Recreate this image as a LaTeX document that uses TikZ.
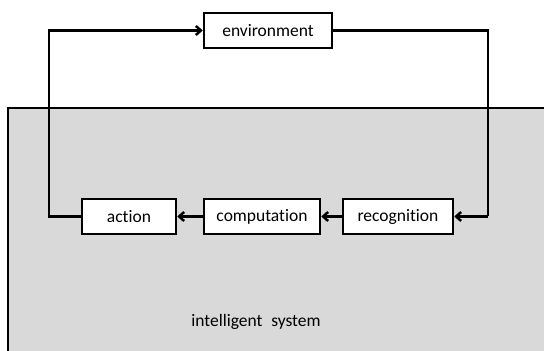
\documentclass[tikz,border=0pt]{standalone}
\usepackage{fontspec}
\setmainfont{Carlito}[Ligatures=NoCommon]
\usetikzlibrary{arrows.meta}
\begin{document}
\begin{tikzpicture}[x=1pt,y=1pt,
  blockbox/.style={draw=black,line width=2.5pt,fill=white,minimum height=35pt,inner sep=0pt,font=\fontsize{17.5}{20}\selectfont},
  link/.style={line width=2.5pt,-{Straight Barb[length=5pt,width=9pt,line width=2.5pt]}},
  plain/.style={line width=2.5pt}]
\useasboundingbox (0,0) rectangle (544,351);
% system area
\fill[black!15] (8,-5) rectangle (550,243);
\draw[line width=2.2pt] (8,-5) -- (8,243) -- (550,243);
\node[font=\fontsize{17.5}{20}\selectfont] (sys) at (256,29) {intelligent\hspace{0.5em}system};
% blocks
\node[blockbox,minimum width=128pt] (env) at (268,320.5) {environment};
\node[blockbox,minimum width=94pt] (act) at (129,134.5) {action};
\node[blockbox,minimum width=116pt] (comp) at (262,134.5) {computation};
\node[blockbox,minimum width=110pt] (rec) at (398,134.5) {recognition};
% loop corners
\coordinate (lb) at (49,134.5);
\coordinate (rt) at (488,320.5);
\coordinate (rb) at (488,134.5);
% connectors
\draw[link] (act.west) -- (lb) |- (env.west);
\draw[plain] (env.east) -- (rt) -- (rb);
\draw[link] (rb) -- (rec.east);
\draw[link] (rec.west) -- (comp.east);
\draw[link] (comp.west) -- (act.east);
\end{tikzpicture}
\end{document}
